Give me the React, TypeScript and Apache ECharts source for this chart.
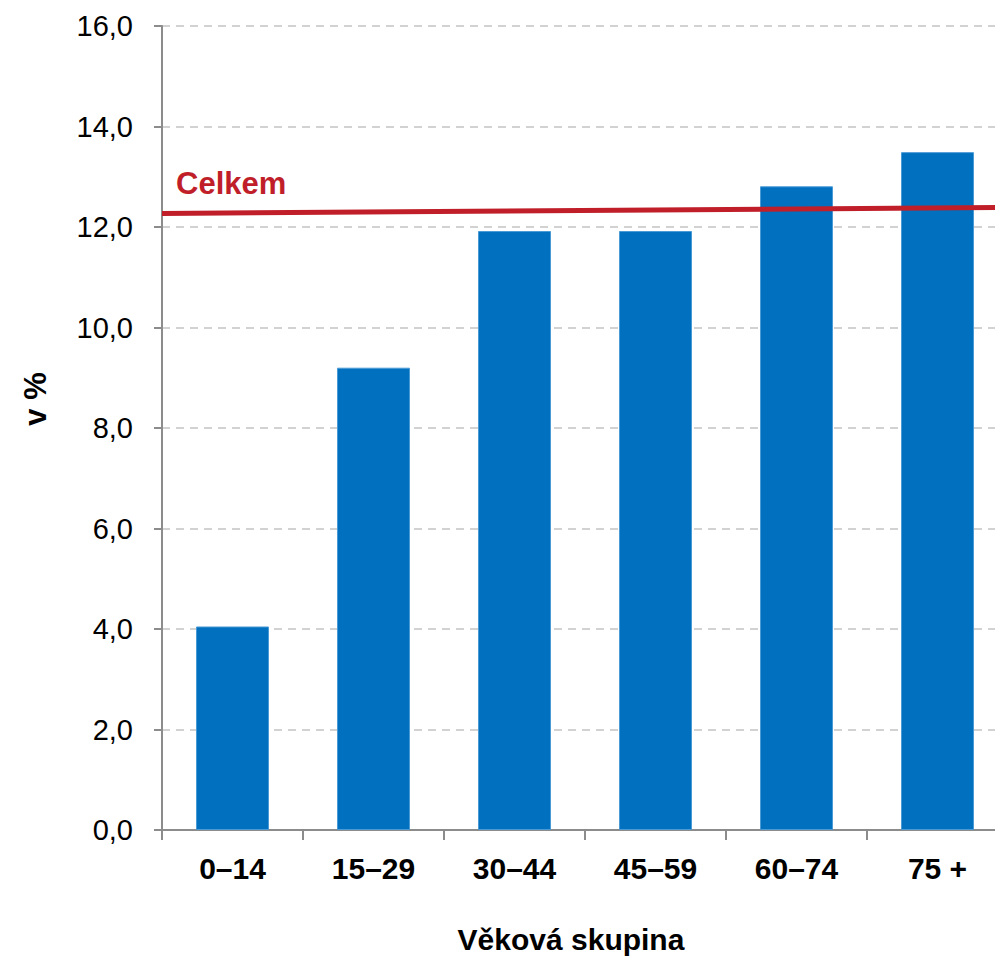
import React, { useEffect, useRef } from "react";
import * as echarts from "echarts";

const categories = ["0–14", "15–29", "30–44", "45–59", "60–74", "75 +"];
const values = [4.05, 9.2, 11.92, 11.92, 12.81, 13.49];
const totalLine = [
  [0, 12.27],
  [1, 12.39],
];
const totalLabel = "Celkem";
const xName = "Věková skupina";
const yName = "v %";

export default function App() {
  const ref = useRef<HTMLDivElement>(null);
  useEffect(() => {
    const chart = echarts.init(ref.current!, null, { renderer: "svg" });
    const font = "'Liberation Sans', Arial, sans-serif";
    chart.setOption({
      animation: false,
      textStyle: { fontFamily: font },
      grid: { left: 162, right: 0, top: 26, bottom: 127 },
      xAxis: [
        {
          type: "category",
          data: categories,
          axisLine: { lineStyle: { color: "#8c8c8c", width: 2 } },
          axisTick: { show: true, length: 10, lineStyle: { color: "#8c8c8c", width: 2 } },
          axisLabel: {
            color: "#000",
            fontWeight: "bold",
            fontSize: 30,
            fontFamily: font,
            margin: 23,
          },
        },
        { type: "value", min: 0, max: 1, show: false },
      ],
      yAxis: {
        type: "value",
        min: 0,
        max: 16,
        interval: 2,
        axisLine: { show: true, lineStyle: { color: "#8c8c8c", width: 2 } },
        axisTick: { show: true, length: 8, lineStyle: { color: "#8c8c8c", width: 2 } },
        axisLabel: {
          color: "#000",
          fontSize: 29,
          fontFamily: font,
          margin: 29,
          formatter: (v: number) => v.toFixed(1).replace(".", ","),
        },
        splitLine: { lineStyle: { color: "#c4c4c4", width: 1.5, type: [8, 6] } },
      },
      graphic: [
        {
          type: "text",
          x: 176,
          y: 183,
          style: {
            text: totalLabel,
            fill: "#C01F2A",
            font: `bold 31px ${font}`,
            textVerticalAlign: "middle",
          },
        },
        {
          type: "text",
          x: 571,
          y: 939,
          style: {
            text: xName,
            fill: "#000",
            font: `bold 30px ${font}`,
            textAlign: "center",
            textVerticalAlign: "middle",
          },
        },
        {
          type: "text",
          x: 35,
          y: 399,
          rotation: Math.PI / 2,
          style: {
            text: yName,
            fill: "#000",
            font: `bold 31px ${font}`,
            textAlign: "center",
            textVerticalAlign: "middle",
          },
        },
      ],
      series: [
        {
          type: "bar",
          data: values,
          barWidth: 73,
          itemStyle: { color: "#0070BF", borderColor: "#4a9ad6", borderWidth: 1 },
        },
        {
          type: "line",
          xAxisIndex: 1,
          data: totalLine,
          symbol: "none",
          lineStyle: { color: "#C01F2A", width: 5 },
          z: 5,
        },
      ],
    });
    return () => chart.dispose();
  }, []);
  return (
    <div style={{ position: "absolute", left: 0, top: 0, width: 995, height: 957, overflow: "hidden" }}>
      <div ref={ref} style={{ width: 1008, height: 957 }} />
    </div>
  );
}
